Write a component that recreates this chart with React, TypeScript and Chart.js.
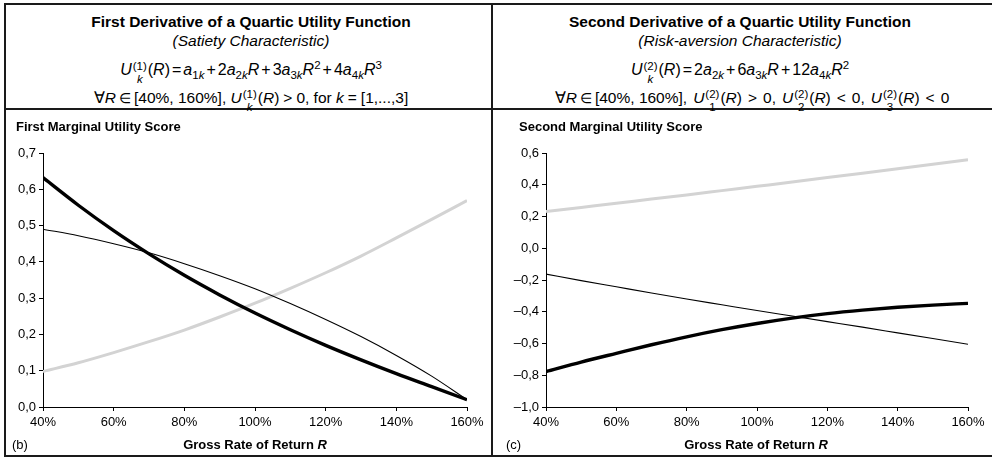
import React, { useEffect, useRef } from 'react';
import { Chart, registerables } from 'chart.js';

Chart.register(...registerables);

const FONT = '"Liberation Sans", Arial, Helvetica, sans-serif';

// Gross rate of return R in percent, sampled every 10 points
const grossReturn = [40, 50, 60, 70, 80, 90, 100, 110, 120, 130, 140, 150, 160];

// First marginal utility U_k^(1)(R)
const firstUtilityK1 = [0.098, 0.122, 0.15, 0.18, 0.212, 0.248, 0.286, 0.327, 0.37, 0.416, 0.466, 0.517, 0.569];
const firstUtilityK2 = [0.632, 0.556, 0.486, 0.422, 0.363, 0.309, 0.259, 0.213, 0.17, 0.13, 0.092, 0.056, 0.02];
const firstUtilityK3 = [0.49, 0.472, 0.45, 0.425, 0.395, 0.362, 0.326, 0.285, 0.241, 0.194, 0.142, 0.085, 0.02];

// Second marginal utility U_k^(2)(R)
const secondUtilityK1 = [0.231, 0.257, 0.283, 0.31, 0.336, 0.363, 0.39, 0.417, 0.445, 0.473, 0.501, 0.529, 0.558];
const secondUtilityK2 = [-0.777, -0.717, -0.662, -0.608, -0.558, -0.513, -0.474, -0.44, -0.412, -0.39, -0.372, -0.358, -0.347];
const secondUtilityK3 = [-0.163, -0.204, -0.243, -0.282, -0.32, -0.356, -0.392, -0.427, -0.462, -0.497, -0.533, -0.569, -0.605];

// Axis ranges
const returnAxis = { min: 40, max: 160, step: 20 };
const firstScoreAxis = { min: 0, max: 0.7, step: 0.1 };
const secondScoreAxis = { min: -1, max: 0.6, step: 0.2 };

const LINE_K1 = { color: '#d3d3d3', width: 3, order: 3 };
const LINE_K2 = { color: '#000000', width: 3.4, order: 1 };
const LINE_K3 = { color: '#000000', width: 1.1, order: 2 };

type Series = { values: number[]; color: string; width: number; order: number };

type ChartProps = {
  left: number;
  top: number;
  width: number;
  height: number;
  plotLeft: number;
  plotTop: number;
  plotRight: number;
  plotBottom: number;
  yAxis: { min: number; max: number; step: number };
  series: Series[];
};

function formatScore(v: number): string {
  const s = Math.abs(v).toFixed(1).replace('.', ',');
  return v < -1e-9 ? '\u2013' + s : s;
}

function UtilityChart(props: ChartProps) {
  const ref = useRef<HTMLCanvasElement>(null);
  const { left, top, width, height, plotLeft, plotTop, plotRight, plotBottom, yAxis, series } = props;

  useEffect(() => {
    const tickFont = { family: FONT, size: 13 };
    const grid = {
      display: true,
      drawOnChartArea: false,
      drawTicks: true,
      tickLength: 4,
      color: '#000',
      tickColor: '#000',
    };
    const chart = new Chart(ref.current as HTMLCanvasElement, {
      type: 'line',
      data: {
        datasets: series.map((s) => ({
          data: grossReturn.map((x, i) => ({ x, y: s.values[i] })),
          borderColor: s.color,
          borderWidth: s.width,
          pointRadius: 0,
          cubicInterpolationMode: 'monotone' as const,
          fill: false,
          order: s.order,
          borderCapStyle: 'butt' as const,
        })),
      },
      options: {
        responsive: false,
        animation: false,
        devicePixelRatio: 1,
        events: [],
        layout: { padding: { left: 0, top: plotTop, right: width - plotRight, bottom: 0 } },
        plugins: { legend: { display: false }, tooltip: { enabled: false } },
        scales: {
          x: {
            type: 'linear',
            min: returnAxis.min,
            max: returnAxis.max,
            ticks: {
              stepSize: returnAxis.step,
              callback: (v: any) => v + '%',
              color: '#000',
              font: tickFont,
              padding: 4,
              maxRotation: 0,
              autoSkip: false,
            },
            grid,
            border: { display: true, color: '#000', width: 1 },
            afterFit: (a: any) => {
              a.height = height - plotBottom;
            },
          },
          y: {
            type: 'linear',
            min: yAxis.min,
            max: yAxis.max,
            ticks: {
              stepSize: yAxis.step,
              callback: (v: any) => formatScore(Number(v)),
              color: '#000',
              font: tickFont,
              padding: 3,
              autoSkip: false,
            },
            grid,
            border: { display: true, color: '#000', width: 1 },
            afterFit: (a: any) => {
              a.width = plotLeft;
            },
          },
        },
      },
    } as any);
    return () => chart.destroy();
  }, []);

  return (
    <canvas
      ref={ref}
      width={width}
      height={height}
      style={{ position: 'absolute', left, top, width, height }}
    />
  );
}

// Stacked superscript over subscript, e.g. U with (1) over k
function SupSub({ sup, sub }: { sup: React.ReactNode; sub: React.ReactNode }) {
  return (
    <span
      style={{
        display: 'inline-flex',
        flexDirection: 'column',
        fontSize: 11.5,
        lineHeight: '13px',
        verticalAlign: 5,
        marginLeft: 1,
        marginRight: 1,
      }}
    >
      <span>{sup}</span>
      <span>{sub}</span>
    </span>
  );
}

function Sub({ children }: { children: React.ReactNode }) {
  return <span style={{ fontSize: 11.5, verticalAlign: -4 }}>{children}</span>;
}

function Sup({ children }: { children: React.ReactNode }) {
  return <span style={{ fontSize: 11.5, verticalAlign: 6 }}>{children}</span>;
}

function Line({ cx, top, children, style }: { cx: number; top: number; children: React.ReactNode; style?: React.CSSProperties }) {
  return (
    <div
      style={{
        position: 'absolute',
        left: cx - 300,
        width: 600,
        top,
        textAlign: 'center',
        fontSize: 15.5,
        lineHeight: '15.5px',
        whiteSpace: 'nowrap',
        ...style,
      }}
    >
      {children}
    </div>
  );
}

function Label({ left, top, children, style }: { left: number; top: number; children: React.ReactNode; style?: React.CSSProperties }) {
  return (
    <div
      style={{
        position: 'absolute',
        left,
        top,
        fontSize: 13,
        lineHeight: '13px',
        whiteSpace: 'nowrap',
        ...style,
      }}
    >
      {children}
    </div>
  );
}

// tight operator inside the formula, spaced relation inside the condition line
const op: React.CSSProperties = { margin: '0 2px' };
const rel: React.CSSProperties = { margin: '0 4px' };
const relWide: React.CSSProperties = { margin: '0 6px' };
const comma: React.CSSProperties = { marginRight: 6 };
const elem: React.CSSProperties = { margin: '0 3px', fontSize: 14 };
const i = (t: string) => <i>{t}</i>;

export default function App() {
  const leftCx = 251;
  const rightCx = 740;
  const ink = '#1a1a1a';
  return (
    <div
      style={{
        position: 'absolute',
        left: 0,
        top: 0,
        width: 992,
        height: 459,
        overflow: 'hidden',
        background: '#fff',
        fontFamily: FONT,
        color: '#000',
      }}
    >
      {/* frame */}
      <div style={{ position: 'absolute', left: 4, top: 3, width: 1000, height: 454, border: `2px solid ${ink}`, boxSizing: 'border-box' }} />
      <div style={{ position: 'absolute', left: 491, top: 3, width: 2, height: 454, background: ink }} />
      <div style={{ position: 'absolute', left: 4, top: 108, width: 1000, height: 2, background: ink }} />

      {/* left header */}
      <Line cx={leftCx} top={14} style={{ fontWeight: 'bold' }}>First Derivative of a Quartic Utility Function</Line>
      <Line cx={leftCx} top={33} style={{ fontStyle: 'italic' }}>(Satiety Characteristic)</Line>
      <Line cx={leftCx} top={58} style={{ fontSize: 16 }}>
        {i('U')}<SupSub sup="(1)" sub={i('k')} />({i('R')})<span style={op}>=</span>{i('a')}<Sub>1{i('k')}</Sub>
        <span style={op}>+</span>2{i('a')}<Sub>2{i('k')}</Sub>{i('R')}
        <span style={op}>+</span>3{i('a')}<Sub>3{i('k')}</Sub>{i('R')}<Sup>2</Sup>
        <span style={op}>+</span>4{i('a')}<Sub>4{i('k')}</Sub>{i('R')}<Sup>3</Sup>
      </Line>
      <Line cx={leftCx} top={88}>
        ∀{i('R')}<span style={elem}>∈</span>[40%, 160%], {i('U')}<SupSub sup="(1)" sub={i('k')} />({i('R')})<span style={rel}>&gt;</span>0, for {i('k')}<span style={rel}>=</span>[1,...,3]
      </Line>

      {/* right header */}
      <Line cx={rightCx} top={14} style={{ fontWeight: 'bold' }}>Second Derivative of a Quartic Utility Function</Line>
      <Line cx={rightCx} top={33} style={{ fontStyle: 'italic' }}>(Risk-aversion Characteristic)</Line>
      <Line cx={rightCx} top={58} style={{ fontSize: 16 }}>
        {i('U')}<SupSub sup="(2)" sub={i('k')} />({i('R')})<span style={op}>=</span>2{i('a')}<Sub>2{i('k')}</Sub>
        <span style={op}>+</span>6{i('a')}<Sub>3{i('k')}</Sub>{i('R')}
        <span style={op}>+</span>12{i('a')}<Sub>4{i('k')}</Sub>{i('R')}<Sup>2</Sup>
      </Line>
      <Line cx={752} top={88}>
        ∀{i('R')}<span style={elem}>∈</span>[40%, 160%],<span style={comma} />{i('U')}<SupSub sup="(2)" sub="1" />({i('R')})<span style={relWide}>&gt;</span>0,<span style={comma} />
        {i('U')}<SupSub sup="(2)" sub="2" />({i('R')})<span style={relWide}>&lt;</span>0,<span style={comma} />
        {i('U')}<SupSub sup="(2)" sub="3" />({i('R')})<span style={relWide}>&lt;</span>0
      </Line>

      {/* left chart */}
      <UtilityChart
        left={6}
        top={110}
        width={485}
        height={345}
        plotLeft={37}
        plotTop={43}
        plotRight={461}
        plotBottom={297}
        yAxis={firstScoreAxis}
        series={[
          { values: firstUtilityK1, ...LINE_K1 },
          { values: firstUtilityK3, ...LINE_K3 },
          { values: firstUtilityK2, ...LINE_K2 },
        ]}
      />
      <Label left={16} top={120} style={{ fontWeight: 'bold' }}>First Marginal Utility Score</Label>
      <Label left={12} top={438}>(b)</Label>
      <Label left={255 - 100} top={438} style={{ fontWeight: 'bold', width: 200, textAlign: 'center' }}>
        Gross Rate of Return <i>R</i>
      </Label>

      {/* right chart */}
      <UtilityChart
        left={493}
        top={110}
        width={499}
        height={345}
        plotLeft={53}
        plotTop={43}
        plotRight={475}
        plotBottom={297}
        yAxis={secondScoreAxis}
        series={[
          { values: secondUtilityK1, ...LINE_K1 },
          { values: secondUtilityK3, ...LINE_K3 },
          { values: secondUtilityK2, ...LINE_K2 },
        ]}
      />
      <Label left={519} top={120} style={{ fontWeight: 'bold' }}>Second Marginal Utility Score</Label>
      <Label left={506} top={438}>(c)</Label>
      <Label left={756 - 100} top={438} style={{ fontWeight: 'bold', width: 200, textAlign: 'center' }}>
        Gross Rate of Return <i>R</i>
      </Label>
    </div>
  );
}
